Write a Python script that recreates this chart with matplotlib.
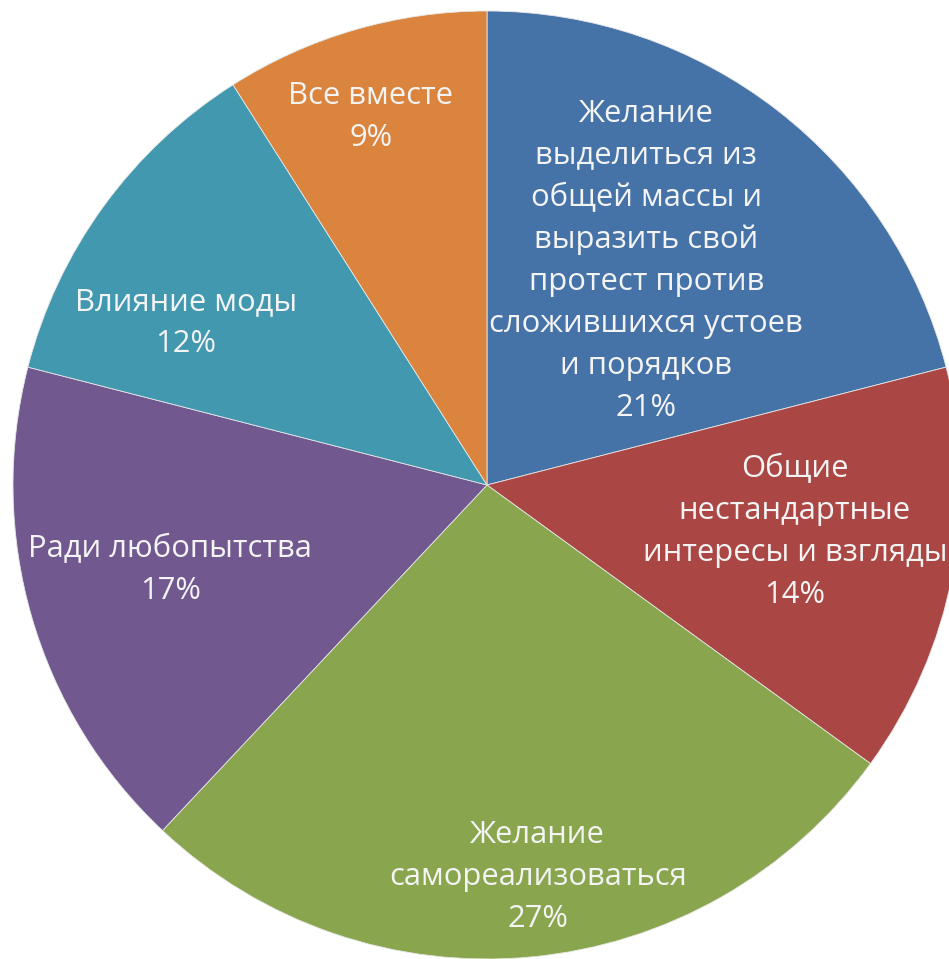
import numpy as np
import matplotlib
matplotlib.use("Agg")
import matplotlib.pyplot as plt

categories = [
    "Желание\nвыделиться из\nобщей массы и\nвыразить свой\nпротест против\nсложившихся устоев\nи порядков",
    "Общие\nнестандартные\nинтересы и взгляды",
    "Желание\nсамореализоваться",
    "Ради любопытства",
    "Влияние моды",
    "Все вместе",
]
values = [21, 14, 27, 17, 12, 9]
colors = ["#4572A7", "#AA4643", "#89A54E", "#71588F", "#4198AF", "#DB843D"]
# label placement: radial fraction and angular shift (deg) from wedge middle
label_r = [0.58, 0.657, 0.834, 0.692, 0.721, 0.814]
label_shift = [2.4, 2.1, 2.0, -1.2, 7.7, 1.3]

W, H = 949, 959
cx, cy, R = 487, 485, 474
fig = plt.figure(figsize=(W / 100, H / 100), dpi=100)
ax = fig.add_axes([0, 0, 1, 1])

wedges, _ = ax.pie(values, colors=colors, startangle=90, counterclock=False,
                   radius=1.0, center=(0, 0), frame=True,
                   wedgeprops=dict(edgecolor="#E6E6E6", linewidth=0.6))
ax.set_aspect("auto")
ax.set_xlim(-cx / R, (W - cx) / R)
ax.set_ylim(-(H - cy) / R, cy / R)
ax.axis("off")

total = sum(values)
for w, cat, v, r, s in zip(wedges, categories, values, label_r, label_shift):
    mid = np.deg2rad((w.theta1 + w.theta2) / 2 + s)
    x, y = r * np.cos(mid), r * np.sin(mid)
    ax.text(x, y, f"{cat}\n{round(100 * v / total)}%", ha="center", va="center",
            color="#F4F4F4", fontsize=22.3, family=["Open Sans", "DejaVu Sans"],
            linespacing=1.52, multialignment="center")

fig.savefig("out.png", dpi=100)
